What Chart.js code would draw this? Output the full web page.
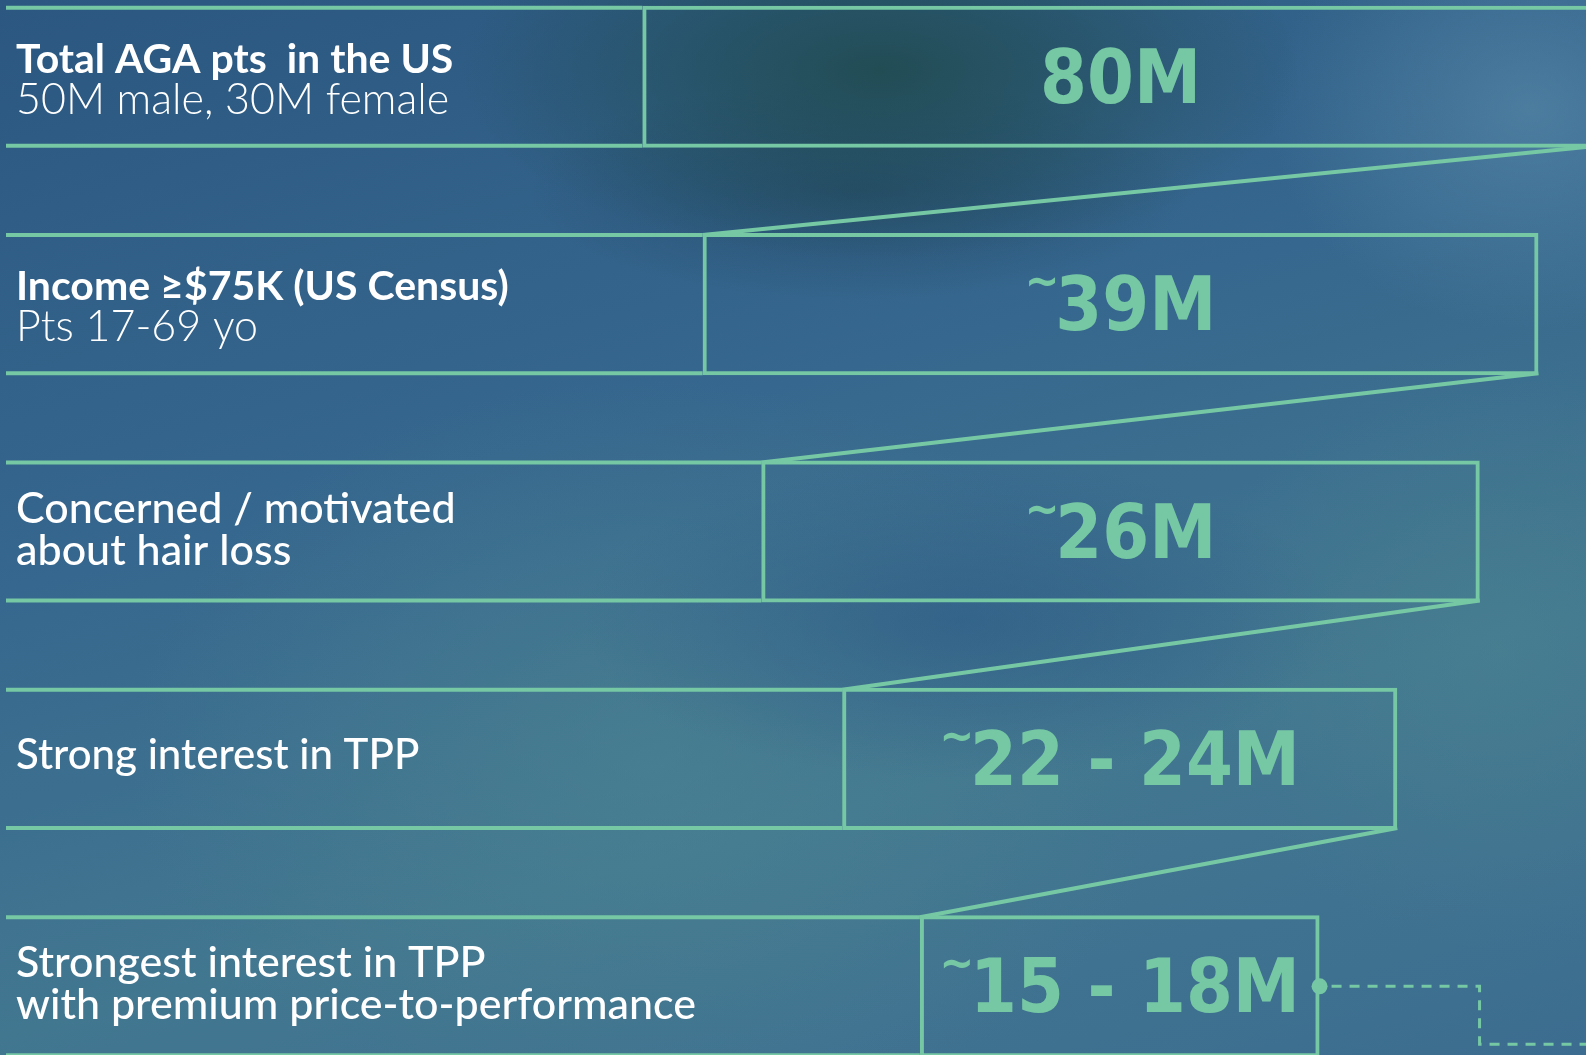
<!DOCTYPE html>
<html lang="en">
<head>
<title>AGA patient funnel</title>
<script src="https://cdn.jsdelivr.net/npm/chart.js"></script>
<style>
  html, body { margin: 0; padding: 0; overflow: hidden; }
  body {
    width: 1586px; height: 1055px; position: relative;
    background:
      radial-gradient(ellipse 420px 190px at 880px 70px, rgba(30,72,72,0.8), rgba(30,72,72,0)),
      radial-gradient(ellipse 330px 110px at 860px 190px, rgba(30,64,90,0.55), rgba(30,64,90,0)),
      radial-gradient(ellipse 260px 220px at 1530px 110px, rgba(95,145,175,0.55), rgba(95,145,175,0)),
      radial-gradient(ellipse 380px 160px at 960px 620px, rgba(42,86,132,0.55), rgba(42,86,132,0)),
      radial-gradient(ellipse 520px 380px at 650px 760px, rgba(78,134,146,0.55), rgba(78,134,146,0)),
      radial-gradient(ellipse 300px 300px at 1500px 650px, rgba(76,132,144,0.5), rgba(76,132,144,0)),
      linear-gradient(165deg, #2b5780 0%, #36678e 40%, #427790 70%, #3c6d90 100%);
  }
  #wrap { position: absolute; left: 0; top: -37px; width: 1586px; height: 1137px; }
</style>
</head>
<body>
<div id="wrap"><canvas id="funnel"></canvas></div>

<script>
  // funnel stages, top to bottom
  const stages = ["Total AGA pts  in the US", "Income ≥$75K (US Census)", "Concerned / motivated\nabout hair loss", "Strong interest in TPP", "Strongest interest in TPP\nwith premium price-to-performance"];
  const subtitles = ["50M male, 30M female", "Pts 17-69 yo", "", "", ""];
  const sizeLabels = ["80M", "~39M", "~26M", "~22 - 24M", "~15 - 18M"];
  // bar extent, % of chart width
  const barStart = [40.5, 44.3, 48.0, 53.1, 58.0];
  const barEnd = [100.8, 97.0, 93.3, 88.1, 83.2];

  const mint = "#76c8a4";
  const valueFont = "bold 75px 'DejaVu Sans Condensed'";
  const tildeFont = "bold 46px 'DejaVu Sans Condensed'";

  const funnelPlugin = {
    id: "funnelDecor",
    afterDatasetsDraw(chart) {
      const ctx = chart.ctx;
      const bars = chart.getDatasetMeta(0).data;
      ctx.save();
      ctx.strokeStyle = mint;
      ctx.lineWidth = 4;

      bars.forEach((b, i) => {
        const top = b.y - b.height / 2 + 2;
        const bot = b.y + b.height / 2 - 2;
        // row rules to the left of each box
        ctx.beginPath();
        ctx.moveTo(6, top); ctx.lineTo(b.base, top);
        ctx.moveTo(6, bot); ctx.lineTo(b.base, bot);
        ctx.stroke();
        // diagonal to next box
        if (i < bars.length - 1) {
          const n = bars[i + 1];
          ctx.beginPath();
          ctx.moveTo(b.x, bot);
          ctx.lineTo(n.base, n.y - n.height / 2 + 2);
          ctx.stroke();
        }

        // left labels
        ctx.fillStyle = "#ffffff";
        ctx.textAlign = "left";
        ctx.textBaseline = "alphabetic";
        const lines = stages[i].split("\n");
        if (subtitles[i]) {
          ctx.font = "700 41px Lato";
          ctx.fillText(lines[0], 16, b.y - 4);
          ctx.font = "300 43px Lato";
          ctx.fillText(subtitles[i], 16, b.y + 37);
        } else if (lines.length > 1) {
          ctx.font = "500 43px Lato";
          ctx.fillText(lines[0], 16, b.y - 9);
          ctx.fillText(lines[1], 16, b.y + 33);
        } else {
          ctx.font = "500 42px Lato";
          ctx.fillText(lines[0], 16, b.y + 10);
        }

        // value in the box, small raised tilde
        const txt = sizeLabels[i];
        const approx = txt.startsWith("~");
        const main = approx ? txt.slice(1) : txt;
        ctx.fillStyle = mint;
        ctx.font = valueFont;
        const mw = ctx.measureText(main).width;
        ctx.font = tildeFont;
        const tw = approx ? ctx.measureText("~").width - 4 : 0;
        const cx = (b.x + b.base) / 2;
        const x0 = cx - (mw + tw) / 2;
        if (approx) ctx.fillText("~", x0, b.y - 8);
        ctx.font = valueFont;
        ctx.fillText(main, x0 + tw, b.y + 26);
      });

      // dashed lead-out from the last box
      const last = bars[bars.length - 1];
      ctx.fillStyle = mint;
      ctx.beginPath();
      ctx.arc(last.x, last.y, 8, 0, Math.PI * 2);
      ctx.fill();
      ctx.setLineDash([10, 8]);
      ctx.lineWidth = 3;
      ctx.beginPath();
      ctx.moveTo(last.x + 12, last.y);
      ctx.lineTo(last.x + 160, last.y);
      ctx.lineTo(last.x + 160, last.y + 58);
      ctx.lineTo(chart.width, last.y + 58);
      ctx.stroke();
      ctx.restore();
    }
  };

  new Chart(document.getElementById("funnel"), {
    type: "bar",
    data: {
      labels: stages,
      datasets: [{
        data: barStart.map((s, i) => [s, barEnd[i]]),
        backgroundColor: "rgba(0,0,0,0)",
        borderColor: mint,
        borderWidth: 4,
        borderSkipped: false,
        categoryPercentage: 1,
        barPercentage: 0.625,
        clip: false
      }]
    },
    options: {
      indexAxis: "y",
      responsive: true,
      maintainAspectRatio: false,
      animation: false,
      layout: { padding: 0 },
      plugins: { legend: { display: false }, tooltip: { enabled: false } },
      scales: {
        x: { display: false, min: 0, max: 100 },
        y: { display: false }
      }
    },
    plugins: [funnelPlugin]
  });
</script>
</body>
</html>
